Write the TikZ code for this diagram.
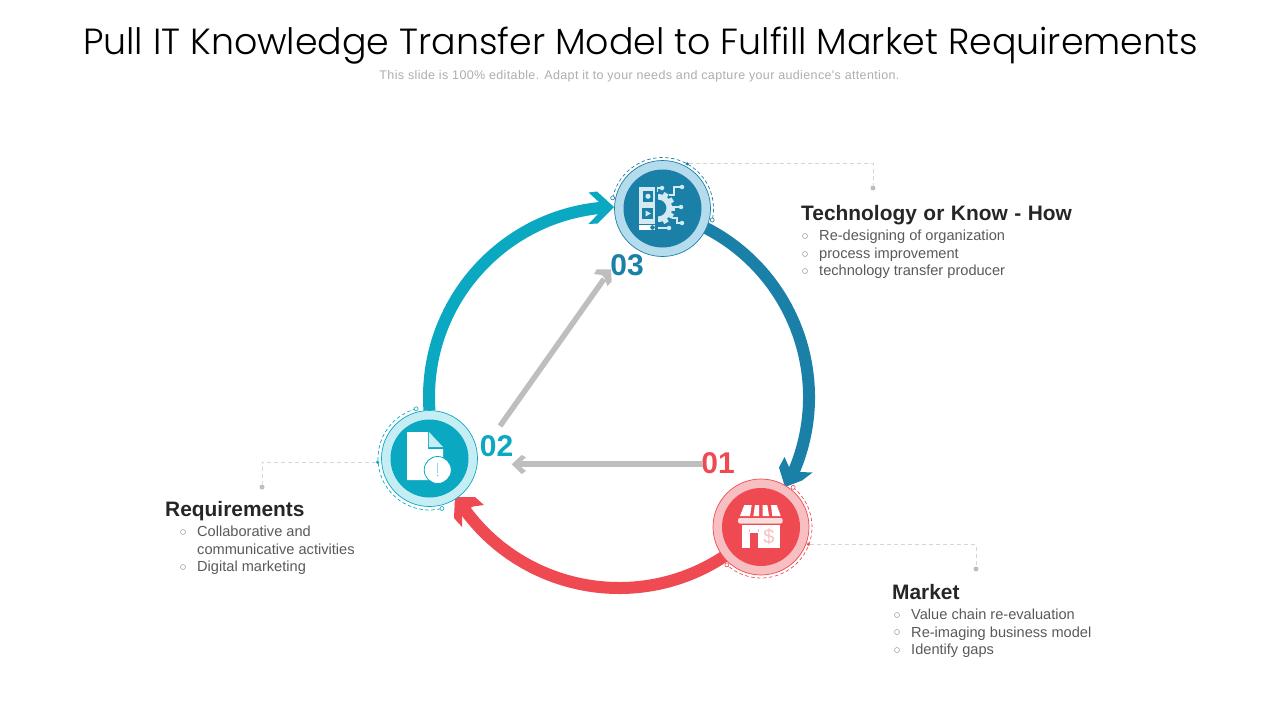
\documentclass[tikz,border=0pt]{standalone}
\usepackage{fontspec}
\setmainfont{Liberation Sans}
\newfontfamily\titlefont{Poppins Light}
\newfontfamily\subfont[LetterSpace=2.9]{Liberation Sans}
\usetikzlibrary{backgrounds}
\definecolor{redm}{HTML}{EF4A52}
\definecolor{redl}{HTML}{F7BFC1}
\definecolor{teal2}{HTML}{0BA8C2}
\definecolor{teall}{HTML}{C5EDF4}
\definecolor{blue2}{HTML}{1B80A8}
\definecolor{bluel}{HTML}{B5DCEC}
\definecolor{iconl}{HTML}{D3EAF3}
\definecolor{graya}{HTML}{BEBEBE}
\definecolor{leader}{HTML}{D5D5D5}
\definecolor{bodyt}{HTML}{595959}
\definecolor{headt}{HTML}{262626}
\tikzset{
  x=1pt,y=-1pt,
  ringarrow/.style={line width=12pt},
  grayarrow/.style={draw=graya,line width=5.5pt},
  outerc/.style={circle,minimum size=96pt,inner sep=0pt,line width=.7pt},
  innerc/.style={circle,minimum size=78pt,inner sep=0pt},
  dasharc/.style={line width=.7pt,dash pattern=on 3.5pt off 2.5pt},
  endring/.style={circle,draw,fill=white,line width=.6pt,minimum size=4pt,inner sep=0pt},
  enddot/.style={circle,minimum size=3.5pt,inner sep=0pt},
  leaderl/.style={draw=leader,line width=.8pt,dash pattern=on 4pt off 3pt},
  leaderdot/.style={circle,fill=graya,minimum size=5pt,inner sep=0pt},
  head/.style={anchor=base west,inner sep=0pt,text=headt,font=\fontsize{20.9}{24}\selectfont\bfseries},
  item/.style={anchor=base west,inner sep=0pt,text=bodyt,font=\fontsize{14.6}{17}\selectfont},
  bul/.style={circle,draw=black!40,line width=.5pt,minimum size=5pt,inner sep=0pt},
  num/.style={inner sep=0pt,font=\fontsize{30}{34}\selectfont\bfseries},
  iconline/.style={draw=iconl,line width=1.1pt},
  icondot/.style={circle,fill=iconl,minimum size=4.5pt,inner sep=0pt},
}
\begin{document}
\begin{tikzpicture}
\useasboundingbox (0,0) rectangle (1280,720);
\coordinate (ctr) at (619,397);
% title
\node[inner sep=0pt,anchor=base,font=\titlefont\fontsize{36.35}{44}\selectfont] (title) at (640.5,54) {Pull IT Knowledge Transfer Model to Fulfill Market Requirements};
\node[inner sep=0pt,anchor=base,text=black!32,font=\subfont\fontsize{12.5}{14}\selectfont] (sub) at (639.5,79) {This slide is 100\% editable. Adapt it to your needs and capture your audience's attention.};
% circles
\node[outerc,fill=bluel,draw=blue2] (n3) at (662.5,208.5) {};
\node[innerc,fill=blue2] at (n3) {};
\node[outerc,fill=teall,draw=teal2] (n2) at (429.5,458.5) {};
\node[innerc,fill=teal2] at (n2) {};
\node[outerc,fill=redl,draw=redm] (n1) at (761,527) {};
\node[innerc,fill=redm] at (n1) {};
% ring arrows
\begin{scope}[on background layer]
\coordinate (s2) at ([shift={(176:190)}]ctr);
\coordinate (s3) at ([shift={(297:190)}]ctr);
\coordinate (s1) at ([shift={(56:191)}]ctr);
\draw[ringarrow,draw=teal2] (s2) arc[start angle=176,end angle=265,radius=190];
\fill[teal2] (614,207) -- (597,191.5) -- (588.5,192.5) -- (600,203) -- (600,212) -- (588.5,224) -- (597.5,223.5) -- cycle;
\draw[ringarrow,draw=blue2] (s3) arc[start angle=297,end angle=384,radius=190];
\fill[blue2] (785,487) -- (779,467.5) -- (784.5,457) -- (790,469) -- (800,472) -- (812.5,472.5) -- (802,480.5) -- cycle;
\draw[ringarrow,draw=redm] (s1) arc[start angle=56,end angle=145,radius=191];
\fill[redm] (455,497) -- (475,497) -- (484,505) -- (473,506.5) -- (462,512) -- (462,527) -- (454,518) -- cycle;
\end{scope}
% grey arrows
\node[num,text=redm] (l1) at (718,463) {01};
\node[num,text=teal2] (l2) at (496.5,446) {02};
\node[num,text=blue2] (l3) at (627,265) {03};
\coordinate (g1s) at (703,464);
\coordinate (g1e) at (520,464);
\coordinate (g2s) at (500,426);
\coordinate (g2e) at (604,279);
\draw[grayarrow] (g1s) -- (g1e);
\fill[graya] (511.7,464.3) -- (521.7,455) -- (526,457.3) -- (520,462.7) -- (520,466) -- (526,471) -- (521.7,474) -- cycle;
\draw[grayarrow] (g2s) -- (g2e);
\fill[graya] (611,269.3) -- (596.7,269.3) -- (594,274) -- (602,275) -- (605,279) -- (607.3,286) -- (611.7,281.7) -- cycle;
% dashed arcs + leaders: node 3
\coordinate (a3) at ([shift={(192:51)}]n3);
\draw[dasharc,draw=blue2] (a3) arc[start angle=192,end angle=373,radius=51];
\node[endring,draw=blue2] at (a3) {};
\node[endring,draw=blue2] at ([shift={(373:51)}]n3) {};
\node[enddot,fill=blue2] (d3) at ([shift={(299:51)}]n3) {};
\node[leaderdot] (p3) at (873,188) {};
\draw[leaderl] (d3) -| (p3);
% node 2
\coordinate (a2) at ([shift={(255:51.5)}]n2);
\draw[dasharc,draw=teal2] (a2) arc[start angle=255,end angle=76,radius=51.5];
\node[endring,draw=teal2] at (a2) {};
\node[endring,draw=teal2] at ([shift={(76:51.5)}]n2) {};
\node[enddot,fill=teal2] (d2) at ([shift={(176:52)}]n2) {};
\node[leaderdot] (p2) at (262,487) {};
\draw[leaderl] (d2) -| (p2);
% node 1
\coordinate (a1) at ([shift={(-51:51)}]n1);
\draw[dasharc,draw=redm] (a1) arc[start angle=-51,end angle=132,radius=51];
\node[endring,draw=redm] at (a1) {};
\node[endring,draw=redm] at ([shift={(132:51)}]n1) {};
\node[enddot,fill=redm] (d1) at ([shift={(20:50.5)}]n1) {};
\node[leaderdot] (p1) at (976,569) {};
\draw[leaderl] (d1) -| (p1);
% icon 3
\fill[iconl] (639,187) rectangle (655,223.5);
\fill[blue2] (642.7,191) rectangle (653.3,201.7);
\fill[iconl] (648,196.3) circle (2.6);
\fill[blue2] (641.7,208) rectangle (653.3,219);
\fill[iconl] (645.5,210.5) -- (651,213.5) -- (645.5,216.5) -- cycle;
\fill[white] (639,225) rectangle (655,230);
\fill[blue2] (652.5,227.5) circle (2.3);
\fill[iconl] (658,194) arc[start angle=-90,end angle=90,radius=14] -- (658,216.5) arc[start angle=90,end angle=-90,radius=8.5] -- cycle;
\foreach \a in {-60,-30,0,30,60}{\fill[iconl,rotate around={\a:(658,208)}] (670,205.5) rectangle (675,210.5);}
\draw[iconline] (682,187) -- (674,187) -- (674,195) -- (669,195);
\draw[iconline] (674,207) -- (681,207);
\draw[iconline] (672,218) -- (677,218) -- (677,223) -- (682,223);
\draw[iconline] (658,228) -- (669,228);
\draw[iconline] (657.5,192) -- (657.5,188) -- (662,188);
\foreach \p in {(662,188),(682,187),(681,207),(682,223),(669,228)}{\node[icondot] at \p {};}
% icon 2
\fill[white] (407,432) -- (428,432) -- (428,449) -- (443,449) -- (443,480) -- (407,480) -- cycle;
\fill[teall] (429,432) -- (443,447) -- (429,447) -- cycle;
\draw[fill=white,draw=teal2,line width=.8pt] (437.7,470) circle (13.5);
\fill[teall!70!teal2] (437,463) rectangle (438.4,473);
\fill[teall!70!teal2] (437.7,475.5) circle (1);
% icon 1
\fill[white] (744.3,505) -- (751.7,505) -- (750,516) -- (740,516) -- cycle;
\fill[white] (755,505) -- (759,505) -- (759,516) -- (753.3,516) -- cycle;
\fill[white] (762.7,505) -- (767.3,505) -- (769,516) -- (762.7,516) -- cycle;
\fill[white] (771,505) -- (776.7,505) -- (780.7,516) -- (772.3,516) -- cycle;
\fill[redl!55!white,rounded corners=2pt] (738,518) rectangle (782.7,523.5);
\fill[white] (741.7,525) rectangle (780,548.3);
\fill[redm] (750,533) rectangle (758.3,548.3);
\node[inner sep=0pt,text=redl,font=\fontsize{20}{20}\selectfont] at (769,537) {\$};
\fill[redl] (749,529) rectangle (750,532);
\fill[redl] (758,529) rectangle (759,532);
% text 3
\node[head] (t3) at (801,220) {\spaceskip=6.55pt Technology or Know - How};
\node[item] (t31) at (819,240) {Re-designing of organization};
\node[item] (t32) at (819,258) {process improvement};
\node[item] (t33) at (819,275) {technology transfer producer};
\node[bul] at (805,236) {};
\node[bul] at (805,254) {};
\node[bul] at (805,271) {};
% text 2
\node[head] (t2) at (165,516) {Requirements};
\node[item] (t21) at (197,536) {Collaborative and};
\node[item] (t22) at (197,554) {communicative activities};
\node[item] (t23) at (197,571) {Digital marketing};
\node[bul] at (183,532) {};
\node[bul] at (183,567) {};
% text 1
\node[head] (t1) at (892,599) {Market};
\node[item] (t11) at (911,619) {Value chain re-evaluation};
\node[item] (t12) at (911,637) {Re-imaging business model};
\node[item] (t13) at (911,654) {Identify gaps};
\node[bul] at (897,615) {};
\node[bul] at (897,632) {};
\node[bul] at (897,650) {};
\end{tikzpicture}
\end{document}
